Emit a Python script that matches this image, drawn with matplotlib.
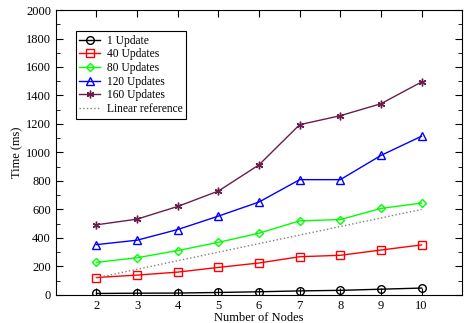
import matplotlib
matplotlib.use("Agg")
import matplotlib.pyplot as plt
from matplotlib.ticker import MultipleLocator

plt.rcParams['font.family'] = ['Liberation Serif', 'DejaVu Serif']

nodes = [2, 3, 4, 5, 6, 7, 8, 9, 10]
upd1 = [10, 12, 13, 17, 22, 28, 32, 40, 48]
upd40 = [122, 139, 160, 193, 224, 268, 278, 315, 351]
upd80 = [228, 261, 311, 369, 433, 520, 529, 607, 645]
upd120 = [353, 384, 459, 553, 652, 809, 809, 979, 1114]
upd160 = [492, 532, 621, 729, 913, 1195, 1258, 1342, 1495]
linear_ref = [120, 180, 240, 300, 360, 420, 480, 540, 600]

fig = plt.figure(figsize=(4.65, 3.23), dpi=100)
ax = fig.add_axes([0.12, 0.087, 0.874, 0.882])

ax.plot(nodes, upd1, color='black', marker='o', mfc='none', ms=5.5, lw=1, label='1 Update')
ax.plot(nodes, upd40, color='red', marker='s', mfc='none', ms=5.5, lw=1, label='40 Updates')
ax.plot(nodes, upd80, color='#00ff00', marker='D', mfc='none', ms=4.5, lw=1, label='80 Updates')
ax.plot(nodes, upd120, color='blue', marker='^', mfc='none', ms=6, lw=1, label='120 Updates')
ax.plot(nodes, upd160, color='#6b1e4b', marker=(6, 2, 0), ms=5.5, lw=1, label='160 Updates')
ax.plot(nodes, linear_ref, color='gray', ls=':', lw=1, label='Linear reference')

ax.set_xlim(1, 11)
ax.set_ylim(0, 2000)
ax.yaxis.set_major_locator(MultipleLocator(200))
ax.yaxis.set_minor_locator(MultipleLocator(100))
ax.set_xticks(nodes)
ax.tick_params(direction='in', top=True, right=True, which='both', labelsize=9)
ax.tick_params(which='major', length=5)
ax.tick_params(which='minor', length=3)
ax.set_xlabel('Number of Nodes', fontsize=9, labelpad=0)
ax.set_ylabel('Time (ms)', fontsize=9, labelpad=2)

leg = ax.legend(loc='upper left', bbox_to_anchor=(0.049, 0.926), fontsize=8.3,
                fancybox=False, edgecolor='black', framealpha=1,
                handlelength=1.8, handletextpad=0.6, borderpad=0.3,
                labelspacing=0.15, borderaxespad=0)
leg.get_frame().set_linewidth(0.8)

fig.savefig('out.png', dpi=100)
